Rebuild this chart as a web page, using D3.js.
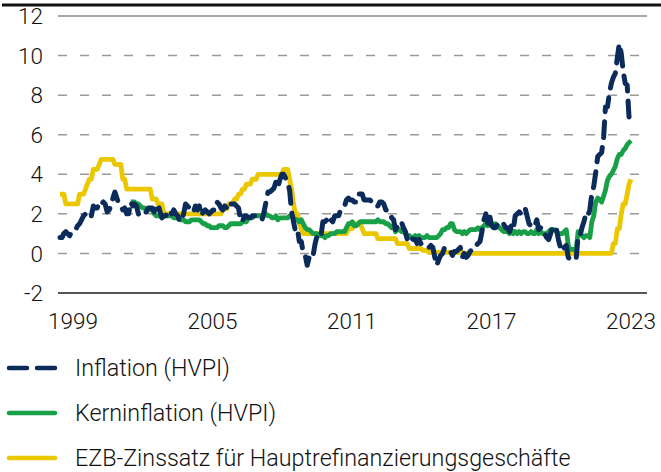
<!DOCTYPE html>
<html>
<head>
<meta charset="utf-8">
<script src="https://cdn.jsdelivr.net/npm/d3@7"></script>
<style>
  body { margin: 0; background: #fff; }
  svg { display: block; font-family: Roboto, sans-serif; font-weight: 300; }
</style>
</head>
<body>
<script>
// monthly values, Jan 1999 - Apr 2023
const inflation = [
  0.8, 0.8, 1.0, 1.1, 1.0, 0.9, 1.1, 1.2, 1.2, 1.4, 1.5, 1.7,
  1.9, 2.0, 2.1, 1.9, 1.9, 2.4, 2.3, 2.3, 2.6, 2.5, 2.6, 2.5,
  2.1, 2.2, 2.4, 2.8, 3.1, 2.8, 2.5, 2.4, 2.2, 2.3, 2.0, 2.0,
  2.6, 2.4, 2.5, 2.4, 2.0, 1.9, 2.0, 2.1, 2.1, 2.3, 2.3, 2.3,
  2.1, 2.4, 2.5, 2.1, 1.8, 1.9, 1.9, 2.1, 2.2, 2.0, 2.2, 2.0,
  1.9, 1.6, 1.7, 2.0, 2.5, 2.4, 2.3, 2.3, 2.1, 2.4, 2.2, 2.4,
  1.9, 2.1, 2.2, 2.1, 2.0, 2.1, 2.2, 2.2, 2.6, 2.5, 2.3, 2.2,
  2.4, 2.3, 2.2, 2.5, 2.5, 2.5, 2.4, 2.3, 1.7, 1.6, 1.9, 1.9,
  1.8, 1.8, 1.9, 1.9, 1.9, 1.9, 1.8, 1.7, 2.1, 2.6, 3.1, 3.1,
  3.2, 3.3, 3.6, 3.3, 3.7, 4.0, 4.0, 3.8, 3.6, 3.2, 2.1, 1.6,
  1.1, 1.2, 0.6, 0.6, 0.0, -0.1, -0.6, -0.2, -0.3, -0.1, 0.5, 0.9,
  1.0, 0.9, 1.6, 1.6, 1.7, 1.5, 1.7, 1.6, 1.9, 1.9, 1.9, 2.2,
  2.3, 2.4, 2.7, 2.8, 2.7, 2.7, 2.6, 2.6, 3.0, 3.0, 3.0, 2.7,
  2.7, 2.7, 2.7, 2.6, 2.4, 2.4, 2.4, 2.6, 2.6, 2.5, 2.2, 2.2,
  2.0, 1.8, 1.7, 1.2, 1.4, 1.6, 1.6, 1.3, 1.1, 0.7, 0.9, 0.8,
  0.7, 0.7, 0.5, 0.7, 0.5, 0.5, 0.4, 0.4, 0.3, 0.4, 0.3, -0.2,
  -0.6, -0.3, -0.1, 0.0, 0.3, 0.2, 0.2, 0.1, -0.1, 0.1, 0.1, 0.2,
  0.3, -0.2, 0.0, -0.2, -0.1, 0.1, 0.2, 0.2, 0.4, 0.5, 0.6, 1.1,
  1.7, 2.0, 1.5, 1.9, 1.4, 1.3, 1.3, 1.5, 1.5, 1.4, 1.5, 1.3,
  1.3, 1.1, 1.4, 1.2, 1.9, 2.0, 2.1, 2.0, 2.1, 2.3, 1.9, 1.5,
  1.4, 1.5, 1.4, 1.7, 1.2, 1.3, 1.0, 1.0, 0.8, 0.7, 1.0, 1.3,
  1.4, 1.2, 0.7, 0.3, 0.1, 0.3, 0.4, -0.2, -0.3, -0.3, -0.3, -0.3,
  0.9, 0.9, 1.3, 1.6, 2.0, 1.9, 2.2, 3.0, 3.4, 4.1, 4.9, 5.0,
  5.1, 5.9, 7.4, 7.4, 8.1, 8.6, 8.9, 9.1, 9.9, 10.6, 10.1, 9.2,
  8.6, 8.5, 6.9, 7.0
]

// core inflation starts Jan 2002
const coreStart = [2002, 0]
const coreInflation = [
  2.6, 2.6, 2.6, 2.5, 2.5, 2.4, 2.3, 2.3, 2.2, 2.2, 2.2, 2.2,
  2.0, 1.9, 1.9, 1.9, 1.8, 1.9, 1.9, 1.9, 1.9, 1.9, 1.8, 1.8,
  1.8, 1.7, 1.7, 1.7, 1.6, 1.6, 1.6, 1.7, 1.7, 1.7, 1.7, 1.7,
  1.6, 1.5, 1.5, 1.4, 1.4, 1.3, 1.3, 1.3, 1.3, 1.4, 1.4, 1.4,
  1.3, 1.3, 1.4, 1.5, 1.5, 1.5, 1.5, 1.5, 1.5, 1.6, 1.6, 1.6,
  1.8, 1.8, 1.8, 1.9, 1.9, 1.9, 1.9, 1.9, 1.9, 2.0, 1.9, 1.9,
  1.8, 1.8, 1.9, 1.7, 1.8, 1.8, 1.8, 1.8, 1.8, 1.9, 1.9, 1.8,
  1.7, 1.7, 1.6, 1.7, 1.5, 1.3, 1.2, 1.2, 1.1, 1.0, 1.0, 1.0,
  0.9, 0.9, 0.9, 0.8, 0.9, 0.9, 1.0, 1.0, 1.0, 1.1, 1.1, 1.1,
  1.1, 1.1, 1.3, 1.5, 1.5, 1.6, 1.4, 1.4, 1.5, 1.6, 1.6, 1.6,
  1.6, 1.6, 1.6, 1.6, 1.6, 1.6, 1.7, 1.6, 1.6, 1.6, 1.5, 1.5,
  1.4, 1.3, 1.4, 1.1, 1.2, 1.2, 1.1, 1.1, 1.0, 0.8, 0.9, 0.8,
  0.8, 0.9, 0.8, 0.9, 0.8, 0.8, 0.8, 0.9, 0.8, 0.8, 0.8, 0.8,
  0.8, 0.9, 1.0, 1.2, 1.2, 1.3, 1.3, 1.5, 1.5, 1.2, 1.1, 1.1,
  1.1, 1.0, 1.1, 1.0, 1.1, 1.2, 1.2, 1.2, 1.2, 1.3, 1.2, 1.3,
  1.4, 1.5, 1.4, 1.5, 1.5, 1.4, 1.5, 1.4, 1.3, 1.2, 1.1, 1.1,
  1.1, 1.0, 1.2, 1.0, 1.1, 1.0, 1.1, 1.0, 1.1, 1.1, 1.0, 1.0,
  1.1, 1.0, 1.0, 1.2, 1.0, 1.1, 1.0, 1.0, 1.0, 1.1, 1.2, 1.2,
  1.2, 1.1, 1.0, 1.0, 1.0, 1.1, 1.2, 0.4, 0.2, 0.2, 0.2, 0.2,
  1.1, 1.0, 0.9, 0.8, 0.9, 0.9, 0.8, 1.6, 1.9, 2.6, 2.8, 2.7,
  2.6, 2.9, 3.2, 3.7, 3.9, 4.0, 4.2, 4.4, 4.8, 5.0, 5.0, 5.2,
  5.3, 5.5, 5.6, 5.7
]

const ecbRate = [
  3.0, 3.0, 3.0, 2.5, 2.5, 2.5, 2.5, 2.5, 2.5, 2.5, 3.0, 3.0,
  3.0, 3.25, 3.5, 3.75, 3.75, 4.25, 4.25, 4.25, 4.5, 4.75, 4.75, 4.75,
  4.75, 4.75, 4.75, 4.75, 4.5, 4.5, 4.5, 4.5, 3.75, 3.75, 3.25, 3.25,
  3.25, 3.25, 3.25, 3.25, 3.25, 3.25, 3.25, 3.25, 3.25, 3.25, 3.25, 2.75,
  2.75, 2.75, 2.5, 2.5, 2.5, 2.0, 2.0, 2.0, 2.0, 2.0, 2.0, 2.0,
  2.0, 2.0, 2.0, 2.0, 2.0, 2.0, 2.0, 2.0, 2.0, 2.0, 2.0, 2.0,
  2.0, 2.0, 2.0, 2.0, 2.0, 2.0, 2.0, 2.0, 2.0, 2.0, 2.0, 2.25,
  2.25, 2.25, 2.5, 2.5, 2.5, 2.75, 2.75, 3.0, 3.0, 3.25, 3.25, 3.5,
  3.5, 3.5, 3.75, 3.75, 3.75, 4.0, 4.0, 4.0, 4.0, 4.0, 4.0, 4.0,
  4.0, 4.0, 4.0, 4.0, 4.0, 4.0, 4.25, 4.25, 4.25, 3.75, 3.25, 2.5,
  2.0, 2.0, 1.5, 1.25, 1.0, 1.0, 1.0, 1.0, 1.0, 1.0, 1.0, 1.0,
  1.0, 1.0, 1.0, 1.0, 1.0, 1.0, 1.0, 1.0, 1.0, 1.0, 1.0, 1.0,
  1.0, 1.0, 1.0, 1.25, 1.25, 1.25, 1.5, 1.5, 1.5, 1.5, 1.25, 1.0,
  1.0, 1.0, 1.0, 1.0, 1.0, 1.0, 0.75, 0.75, 0.75, 0.75, 0.75, 0.75,
  0.75, 0.75, 0.75, 0.75, 0.5, 0.5, 0.5, 0.5, 0.5, 0.5, 0.25, 0.25,
  0.25, 0.25, 0.25, 0.25, 0.25, 0.15, 0.15, 0.15, 0.05, 0.05, 0.05, 0.05,
  0.05, 0.05, 0.05, 0.05, 0.05, 0.05, 0.05, 0.05, 0.05, 0.05, 0.05, 0.05,
  0.05, 0.05, 0, 0, 0, 0, 0, 0, 0, 0, 0, 0,
  0, 0, 0, 0, 0, 0, 0, 0, 0, 0, 0, 0,
  0, 0, 0, 0, 0, 0, 0, 0, 0, 0, 0, 0,
  0, 0, 0, 0, 0, 0, 0, 0, 0, 0, 0, 0,
  0, 0, 0, 0, 0, 0, 0, 0, 0, 0, 0, 0,
  0, 0, 0, 0, 0, 0, 0, 0, 0, 0, 0, 0,
  0, 0, 0, 0, 0, 0, 0.5, 0.5, 1.25, 1.25, 2.0, 2.5,
  2.5, 3.0, 3.5, 3.75
]

const yTicks = [-2, 0, 2, 4, 6, 8, 10, 12]
const xLabels = ['1999', '2005', '2011', '2017', '2023']

const series = [
  { name: 'EZB-Zinssatz für Hauptrefinanzierungsgeschäfte', start: [1999, 0], values: ecbRate, color: '#ebc700', dash: null },
  { name: 'Kerninflation (HVPI)', start: coreStart, values: coreInflation, color: '#17a048', dash: null },
  { name: 'Inflation (HVPI)', start: [1999, 0], values: inflation, color: '#0b2b5b', dash: '16,10' }
]
const legendOrder = ['Inflation (HVPI)', 'Kerninflation (HVPI)', 'EZB-Zinssatz für Hauptrefinanzierungsgeschäfte']

const width = 661
const height = 472

const svg = d3.select('body').append('svg')
  .attr('width', width)
  .attr('height', height)

const x = d3.scaleTime()
  .domain([new Date(1999, 0, 1), new Date(2023, 3, 1)])
  .range([60, 631])

const y = d3.scaleLinear()
  .domain([-2, 12])
  .range([293, 16])

const xLabelPos = d3.scalePoint()
  .domain(xLabels)
  .range([73, 631])

// top rule
svg.append('line')
  .attr('x1', 2).attr('x2', width)
  .attr('y1', 5).attr('y2', 5)
  .attr('stroke', '#111')
  .attr('stroke-width', 3)

// grid
svg.append('g')
  .selectAll('line')
  .data(yTicks)
  .join('line')
  .attr('x1', 58)
  .attr('x2', d => d === -2 || d === 12 ? 647 : 650)
  .attr('y1', d => y(d))
  .attr('y2', d => y(d))
  .attr('stroke', d => d === -2 ? '#555' : d === 12 ? '#a8a8a8' : '#9a9a9a')
  .attr('stroke-width', d => d === -2 || d === 12 ? 2 : 1.5)
  .attr('stroke-dasharray', d => d === -2 || d === 12 ? null : '9,13')

svg.append('g')
  .selectAll('text')
  .data(yTicks)
  .join('text')
  .attr('x', 43)
  .attr('y', d => y(d))
  .attr('dy', '0.36em')
  .attr('text-anchor', 'end')
  .attr('font-size', 22.5)
  .attr('fill', '#111')
  .text(d => d)

svg.append('g')
  .selectAll('text')
  .data(xLabels)
  .join('text')
  .attr('x', d => xLabelPos(d))
  .attr('y', 329)
  .attr('text-anchor', 'middle')
  .attr('font-size', 22.5)
  .attr('fill', '#111')
  .text(d => d)

const line = d3.line()
  .x(d => x(d.date))
  .y(d => y(d.value))

series.forEach(s => {
  const points = s.values.map((v, i) => ({ date: new Date(s.start[0], s.start[1] + i, 1), value: v }))
  svg.append('path')
    .datum(points)
    .attr('d', line)
    .attr('fill', 'none')
    .attr('stroke', s.color)
    .attr('stroke-width', s.dash ? 5 : 4.8)
    .attr('stroke-linejoin', 'round')
    .attr('stroke-linecap', s.dash ? 'round' : 'butt')
    .attr('stroke-dasharray', s.dash)
})

// legend
const legendY = d3.scalePoint()
  .domain(legendOrder)
  .range([368, 458])

const legend = svg.append('g')
  .selectAll('g')
  .data(legendOrder.map(n => series.find(s => s.name === n)))
  .join('g')
  .attr('transform', d => `translate(0,${legendY(d.name)})`)

legend.append('line')
  .attr('x1', 9).attr('x2', 55)
  .attr('stroke', d => d.color)
  .attr('stroke-width', 4.5)
  .attr('stroke-linecap', 'round')
  .attr('stroke-dasharray', d => d.dash ? '18,10' : null)

legend.append('text')
  .attr('x', 75)
  .attr('dy', '0.36em')
  .attr('font-size', 23.3)
  .attr('fill', '#111')
  .text(d => d.name)
</script>
</body>
</html>
